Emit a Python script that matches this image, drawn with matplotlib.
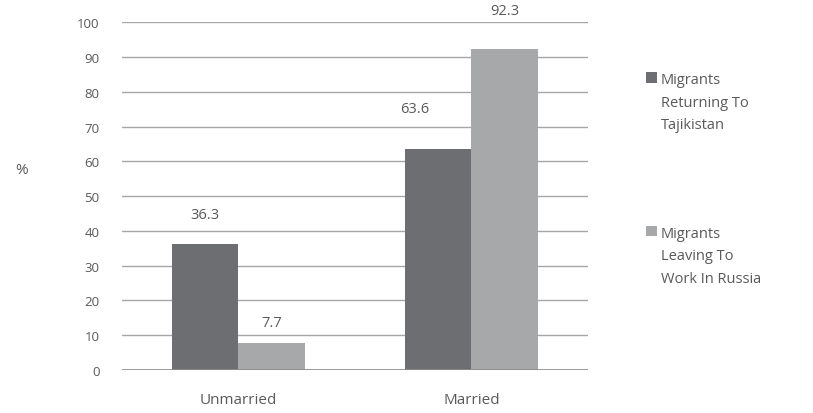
import matplotlib
matplotlib.use("Agg")
import matplotlib.pyplot as plt
import numpy as np

categories = ["Unmarried", "Married"]
series_names = ["Migrants\nReturning To\nTajikistan", "Migrants\nLeaving To\nWork In Russia"]
returning = [36.3, 63.6]
leaving = [7.7, 92.3]
yticks = list(range(0, 101, 10))

colors = ["#6d6e71", "#a7a8aa"]
text_color = "#595959"
plt.rcParams['font.family'] = ['Open Sans', 'DejaVu Sans']

fig = plt.figure(figsize=(8.13, 4.14), dpi=100)
ax = fig.add_axes([0.150, 0.104, 0.573, 0.840])

x = np.arange(len(categories))
w = 0.285
b1 = ax.bar(x - w / 2, returning, w, color=colors[0], label=series_names[0], zorder=3)
b2 = ax.bar(x + w / 2, leaving, w, color=colors[1], label=series_names[1], zorder=3)

ax.set_xlim(-0.5, 1.5)
ax.set_ylim(0, 100)
ax.set_yticks(yticks)
ax.set_xticks(x)
ax.set_xticklabels(categories, fontsize=11, color=text_color)
ax.tick_params(axis='x', length=0, pad=16)
ax.tick_params(axis='y', length=0, pad=16, labelsize=9.5, labelcolor=text_color)
ax.grid(axis='y', color='#a6a6a6', linewidth=1, zorder=0)
for s in ax.spines.values():
    s.set_visible(False)
ax.axhline(0, color='#8c8c8c', linewidth=1.2, zorder=4)

# data labels (per-label offsets in points, as in reference)
offsets = [((0, 21), (0, 15)), ((-17, 29), (0, 28))]
for i in range(len(categories)):
    for j, (bars, vals) in enumerate([(b1, returning), (b2, leaving)]):
        r = bars[i]
        ax.annotate(f"{vals[i]}", (r.get_x() + r.get_width() / 2, r.get_height()),
                    xytext=offsets[i][j], textcoords='offset points',
                    ha='center', va='center', fontsize=10.5, color=text_color)

fig.text(22 / 813, 1 - 170 / 414, "%", fontsize=11, color=text_color, ha='center', va='center')

leg = fig.legend(loc='upper left', bbox_to_anchor=(646 / 813, 1 - 73 / 414), frameon=False,
                 fontsize=10.5, handlelength=0.75, handleheight=0.75, handletextpad=0.25,
                 labelspacing=6.4, labelcolor=text_color, borderpad=0, borderaxespad=0)
for t in leg.get_texts():
    t.set_linespacing(1.7)
for col in leg._legend_handle_box.get_children():
    for item in col.get_children():
        item.align = 'top'

fig.savefig("out.png", dpi=100)
